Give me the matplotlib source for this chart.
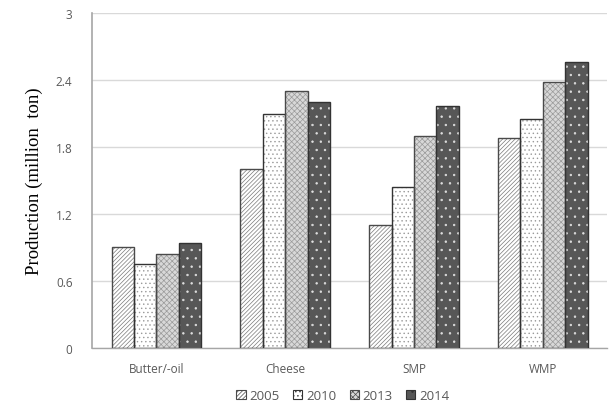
import numpy as np
import matplotlib
matplotlib.use("Agg")
import matplotlib.pyplot as plt
from matplotlib.patches import Patch

categories = ["Butter/-oil", "Cheese", "SMP", "WMP"]
years = ["2005", "2010", "2013", "2014"]
prod_2005 = [0.90, 1.60, 1.10, 1.88]
prod_2010 = [0.75, 2.10, 1.44, 2.05]
prod_2013 = [0.84, 2.30, 1.90, 2.38]
prod_2014 = [0.94, 2.20, 2.17, 2.56]
series = [prod_2005, prod_2010, prod_2013, prod_2014]
yticks = [0, 0.6, 1.2, 1.8, 2.4, 3]

# face colour, hatch, hatch colour, outline colour
styles = [
    ("white", "////////", "#7a7a7a", "#4a4a4a"),
    ("white", "....", "#9a9a9a", "#333333"),
    ("#d8d8d8", "xxxxxx", "#9a9a9a", "#4a4a4a"),
    ("#575757", "..", "#e0e0e0", "#333333"),
]

plt.rcParams["hatch.linewidth"] = 0.5

fig = plt.figure(figsize=(6.09, 4.02), dpi=100)
ax = fig.add_axes([0.151, 0.132, 0.846, 0.833])

x = np.arange(len(categories))
w = 0.174
for i, (vals, (fc, hatch, hc, ec)) in enumerate(zip(series, styles)):
    pos = x + (i - 1.5) * w
    ax.bar(pos, vals, width=w, color=fc, edgecolor="none", linewidth=0, zorder=2)
    ax.bar(pos, vals, width=w, color="none", edgecolor=hc, hatch=hatch, linewidth=0, zorder=3)
    ax.bar(pos, vals, width=w, color="none", edgecolor=ec, linewidth=1.0, zorder=4)

ax.set_xlim(-0.5, len(categories) - 0.5)
ax.set_ylim(0, 3)
ax.set_yticks(yticks)
ax.set_yticklabels(["0", "0.6", "1.2", "1.8", "2.4", "3"])
ax.set_xticks(x)
ax.set_xticklabels(categories)
ax.tick_params(axis="both", length=0, labelsize=8.5, labelcolor="#595959")
ax.tick_params(axis="x", pad=10)
ax.tick_params(axis="y", pad=14)
for lbl in ax.get_xticklabels() + ax.get_yticklabels():
    lbl.set_family("Open Sans")

ax.grid(axis="y", color="#d9d9d9", linewidth=1.0, zorder=0)
ax.set_axisbelow(True)
for s in ["top", "right"]:
    ax.spines[s].set_visible(False)
ax.spines["left"].set_color("#a6a6a6")
ax.spines["bottom"].set_color("#a6a6a6")
ax.spines["left"].set_linewidth(1.2)
ax.spines["bottom"].set_linewidth(1.0)

ax.set_ylabel("Production (million  ton)", family="Liberation Serif", fontsize=13.5,
              color="black", labelpad=9)

# legend with patterned swatches
leg_handles = [Patch(facecolor=fc, edgecolor=ec, hatch=hatch, linewidth=0.8)
               for fc, hatch, hc, ec in styles]
leg = fig.legend(leg_handles, years, loc="center", bbox_to_anchor=(0.563, 0.013), ncol=4,
                 frameon=False, handlelength=0.7, handleheight=0.7, handletextpad=0.3,
                 columnspacing=1.0, prop={"family": "Open Sans", "size": 9.5})
for t in leg.get_texts():
    t.set_color("#595959")

fig.savefig("out.png", dpi=100)
